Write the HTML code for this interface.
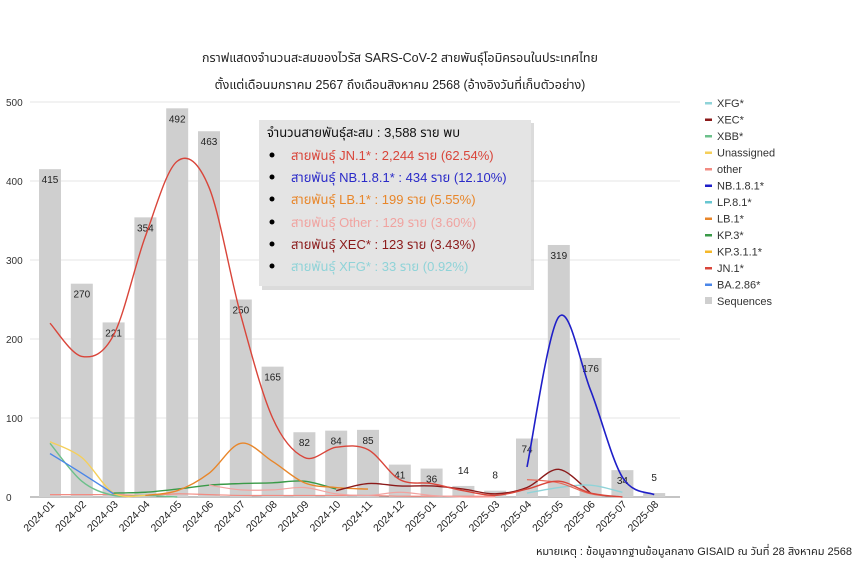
<!DOCTYPE html>
<html><head><meta charset="utf-8"><style>
body{margin:0;background:#fff;width:860px;height:583px;overflow:hidden;font-family:"Liberation Sans","Noto Sans CJK SC",sans-serif}
svg text{font-family:"Liberation Sans","Noto Sans Thai","Noto Sans CJK SC",sans-serif}
</style></head><body>
<svg id="s" width="860" height="583" xmlns="http://www.w3.org/2000/svg">
<text x="400" y="62" font-size="12.5" text-anchor="middle" fill="#222">กราฟแสดงจำนวนสะสมของไวรัส SARS-CoV-2 สายพันธุ์โอมิครอนในประเทศไทย</text>
<text x="400" y="89" font-size="12.5" text-anchor="middle" fill="#222">ตั้งแต่เดือนมกราคม 2567 ถึงเดือนสิงหาคม 2568 (อ้างอิงวันที่เก็บตัวอย่าง)</text>
<g id="grid"></g><g id="bars"></g><g id="lines"></g><g id="xl"></g>
<g>
<rect x="262" y="123" width="272" height="167" fill="#999" opacity="0.35"/>
<rect x="259" y="120" width="272" height="166" fill="#e4e4e4"/>
<text x="267" y="137" font-size="13" fill="#111">จำนวนสายพันธุ์สะสม : 3,588 ราย พบ</text>
<g font-size="13">
<circle cx="272" cy="155" r="2.5" fill="#000"/><text x="291" y="160" fill="#d9453a">สายพันธุ์ JN.1* : 2,244 ราย (62.54%)</text>
<circle cx="272" cy="177" r="2.5" fill="#000"/><text x="291" y="182" fill="#2a2ac8">สายพันธุ์ NB.1.8.1* : 434 ราย (12.10%)</text>
<circle cx="272" cy="199" r="2.5" fill="#000"/><text x="291" y="204" fill="#e8862a">สายพันธุ์ LB.1* : 199 ราย (5.55%)</text>
<circle cx="272" cy="222" r="2.5" fill="#000"/><text x="291" y="227" fill="#f0a3a0">สายพันธุ์ Other : 129 ราย (3.60%)</text>
<circle cx="272" cy="244" r="2.5" fill="#000"/><text x="291" y="249" fill="#8b1a1a">สายพันธุ์ XEC* : 123 ราย (3.43%)</text>
<circle cx="272" cy="266" r="2.5" fill="#000"/><text x="291" y="271" fill="#8fd3d8">สายพันธุ์ XFG* : 33 ราย (0.92%)</text>
</g></g>
<g id="leg" font-size="11" fill="#333"></g>
<text x="852" y="555" font-size="11" text-anchor="end" fill="#222">หมายเหตุ : ข้อมูลจากฐานข้อมูลกลาง GISAID ณ วันที่ 28 สิงหาคม 2568</text>
</svg>
<script>
var NS="http://www.w3.org/2000/svg";
function el(p,t,a,txt){var e=document.createElementNS(NS,t);for(var k in a)e.setAttribute(k,a[k]);if(txt!=null)e.textContent=txt;document.getElementById(p).appendChild(e);return e;}
function Y(v){return 497-v*0.79;}
function X(i){return 50+i*31.8;}
for(var v=0;v<=500;v+=100){el("grid","line",{x1:30,x2:680,y1:Y(v),y2:Y(v),stroke:v?"#e6e6e6":"#888","stroke-width":1});
el("grid","text",{x:6,y:Y(v)+4,"font-size":10,fill:"#333"},v);}
var vals=[415,270,221,354,492,463,250,165,82,84,85,41,36,14,8,74,319,176,34,5];
var months=["2024-01","2024-02","2024-03","2024-04","2024-05","2024-06","2024-07","2024-08","2024-09","2024-10","2024-11","2024-12","2025-01","2025-02","2025-03","2025-04","2025-05","2025-06","2025-07","2025-08"];
vals.forEach(function(v,i){el("bars","rect",{x:X(i)-11,y:Y(v),width:22,height:v*0.79,fill:"#cfcfcf"});
el("bars","text",{x:X(i),y:Y(v)+(v>30?14:-12),"font-size":10,"text-anchor":"middle",fill:"#222"},v);
el("xl","text",{transform:"translate("+(X(i)+5)+",505) rotate(-45)","font-size":10.5,"text-anchor":"end",fill:"#222"},months[i]);});
function path(pts,col,w){var p=pts.map(function(a){return [X(a[0]),Y(a[1])]});var d="M"+p[0][0]+","+p[0][1];
for(var i=0;i<p.length-1;i++){var p0=p[i-1]||p[i],p1=p[i],p2=p[i+1],p3=p[i+2]||p2;
d+=" C"+(p1[0]+(p2[0]-p0[0])/6)+","+(p1[1]+(p2[1]-p0[1])/6)+" "+(p2[0]-(p3[0]-p1[0])/6)+","+(p2[1]-(p3[1]-p1[1])/6)+" "+p2[0]+","+p2[1];}
el("lines","path",{d:d,fill:"none",stroke:col,"stroke-width":w||1.4});}
function seq(a,s){return a.map(function(v,i){return [i+(s||0),v]});}
path(seq([3,3,3,2,4,3,2,2,2,2,2,1,1,1,1]),"#f28b82",1.2);
path(seq([68,20,2,2,0]),"#6cc08b");
path(seq([70,50,5,2]),"#f5cf5a");
path(seq([55,30,4]),"#4a86e8");
path(seq([5,6,10,15,17,18,20,10],2),"#3a9a48");
path(seq([2,8,30,68,45,18,12,10],3),"#e8862a");
path(seq([15,9,9,12,4,2,6,2,0,0],5),"#f2a3a0",1.2);
path(seq([8,17,14,14,10,4,12,35,5],9),"#8b1a1a");
path(seq([5,12,15,6],15),"#8fd3d8");
path(seq([22,18,4,0],15),"#e86a5a",1.2);
path(seq([220,178,205,330,425,392,230,100,50,63,60,22,17,8,2,10,20,5,0]),"#d9453a");
path(seq([38,228,135,25,3],15),"#1f1fc8",1.6);
var leg=[["XFG*","#8fd3d8"],["XEC*","#8b1a1a"],["XBB*","#6cc08b"],["Unassigned","#f5cf5a"],["other","#f28b82"],["NB.1.8.1*","#1f1fc8"],["LP.8.1*","#67c6d0"],["LB.1*","#e8862a"],["KP.3*","#3a9a48"],["KP.3.1.1*","#f5b82a"],["JN.1*","#d9453a"],["BA.2.86*","#4a86e8"],["Sequences","#cfcfcf"]];
leg.forEach(function(l,i){var y=103+i*16.5;
if(i<12)el("leg","rect",{x:705,y:y-1,width:7,height:2.5,fill:l[1]});else el("leg","rect",{x:705,y:y-4,width:7,height:7,fill:l[1]});
el("leg","text",{x:717,y:y+4},l[0]);});
</script>
</body></html>
